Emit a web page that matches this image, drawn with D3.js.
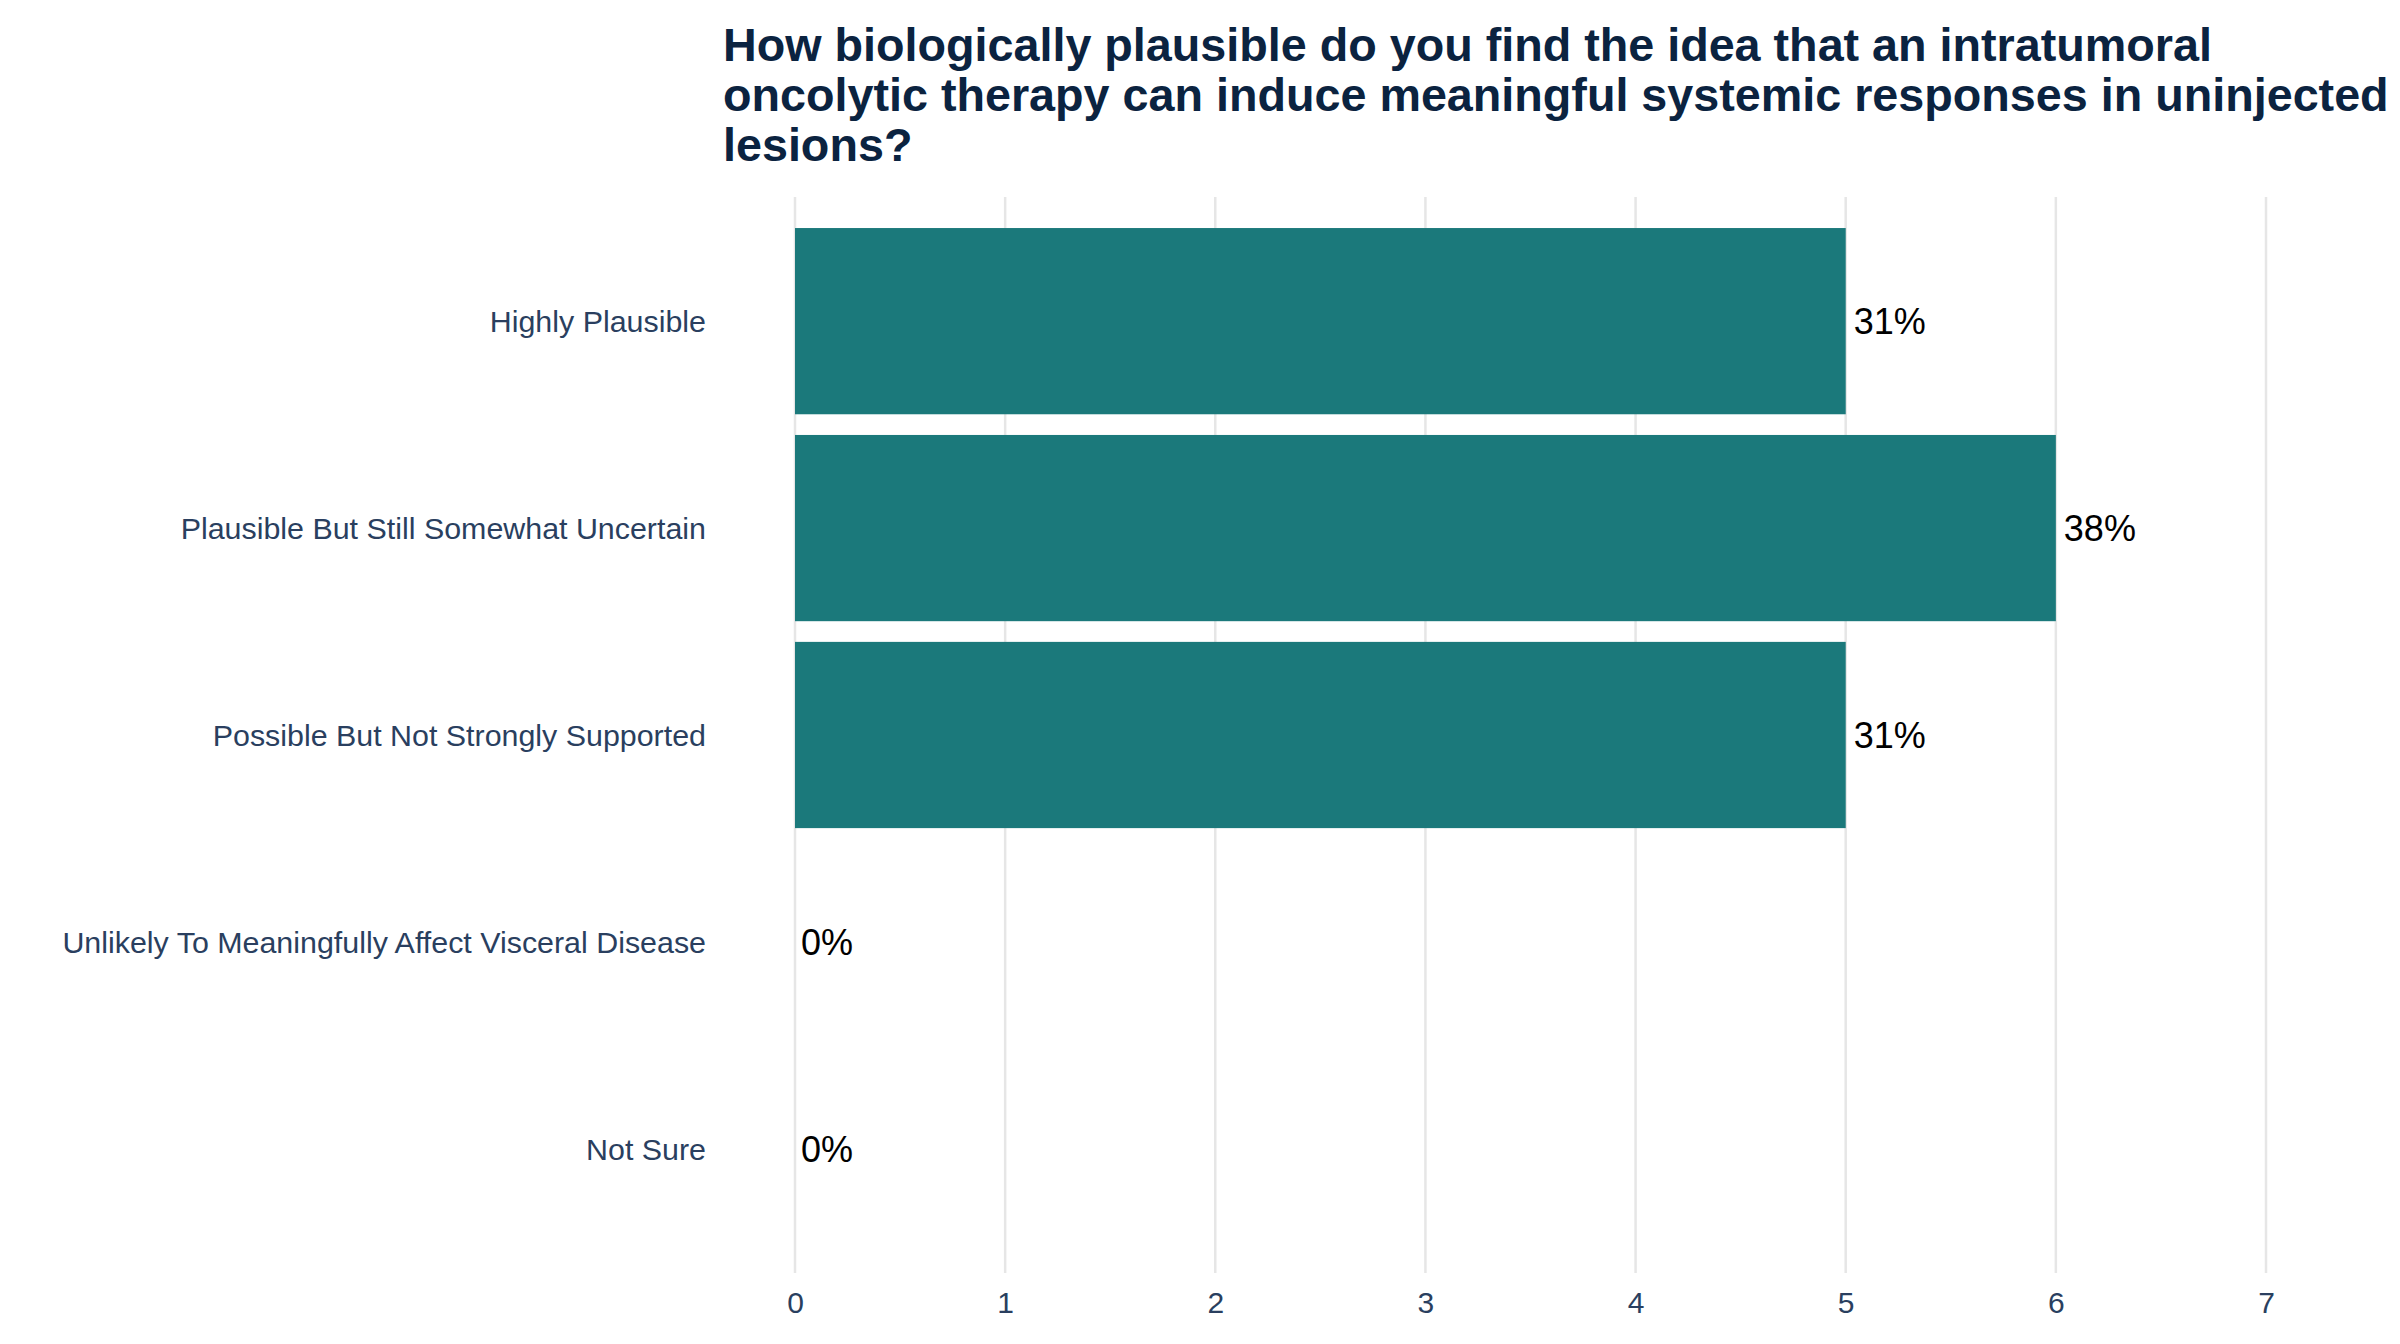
<!DOCTYPE html>
<html>
<head>
<meta charset="utf-8">
<script src="https://cdn.jsdelivr.net/npm/d3@7"></script>
<style>
    body { margin: 0; background: #fff; }
    #chart { width: 2400px; height: 1344px; }
    text { font-family: "Liberation Sans", Arial, sans-serif; }
</style>
</head>
<body>
<div id="chart"></div>
<script>
// data
const categories = [
    "Highly Plausible",
    "Plausible But Still Somewhat Uncertain",
    "Possible But Not Strongly Supported",
    "Unlikely To Meaningfully Affect Visceral Disease",
    "Not Sure"
];
const counts = [5, 6, 5, 0, 0];
const percentLabels = ["31%", "38%", "31%", "0%", "0%"];
const xTicks = [0, 1, 2, 3, 4, 5, 6, 7];
const titleLines = [
    "How biologically plausible do you find the idea that an intratumoral",
    "oncolytic therapy can induce meaningful systemic responses in uninjected",
    "lesions?"
];

const W = 2400, H = 1344;
const plot = { left: 795, right: 2266, top: 197, bottom: 1273 };

const svg = d3.select("#chart").append("svg")
    .attr("width", W)
    .attr("height", H);

// scales
let x = d3.scaleLinear()
    .domain([0, 7])
    .range([plot.left, plot.right]);

let y = d3.scaleBand()
    .domain(categories)
    .range([plot.top, plot.bottom])
    .paddingInner(0.1)
    .paddingOuter(0.15);

// vertical grid lines
svg.append("g")
    .attr("class", "grid")
    .selectAll("line")
    .data(xTicks)
    .enter()
    .append("line")
    .attr("x1", d => x(d))
    .attr("x2", d => x(d))
    .attr("y1", plot.top)
    .attr("y2", plot.bottom)
    .attr("stroke", "#e6e6e6")
    .attr("stroke-width", 2.5);

// bars
let rows = categories.map((c, i) => ({ cat: c, value: counts[i], label: percentLabels[i] }));

svg.append("g")
    .selectAll("rect")
    .data(rows)
    .enter()
    .append("rect")
    .attr("x", x(0))
    .attr("y", d => y(d.cat))
    .attr("width", d => x(d.value) - x(0))
    .attr("height", y.bandwidth())
    .attr("fill", "#1b797b");

// value labels
svg.append("g")
    .selectAll("text")
    .data(rows)
    .enter()
    .append("text")
    .attr("x", d => x(d.value) + (d.value > 0 ? 8 : 6))
    .attr("y", d => y(d.cat) + y.bandwidth() / 2)
    .attr("dy", "0.36em")
    .attr("font-size", 36)
    .attr("fill", "#000")
    .text(d => d.label);

// x axis (no domain line, no ticks)
let xAxis = d3.axisBottom(x)
    .tickValues(xTicks)
    .tickSize(0)
    .tickPadding(0)
    .tickFormat(d3.format("d"));

let gx = svg.append("g")
    .attr("transform", "translate(0," + plot.bottom + ")")
    .call(xAxis);
gx.select(".domain").remove();
gx.selectAll("text")
    .attr("y", 29)
    .attr("dy", "0.36em")
    .attr("font-size", 30)
    .attr("fill", "#2a3f5f");

// y axis labels
let yAxis = d3.axisLeft(y)
    .tickSize(0)
    .tickPadding(0);

let gy = svg.append("g")
    .attr("transform", "translate(706,0)")
    .call(yAxis);
gy.select(".domain").remove();
gy.selectAll("text")
    .attr("dy", "0.36em")
    .attr("font-size", 30.4)
    .attr("fill", "#2a3f5f");

// title
svg.append("text")
    .attr("x", 723)
    .attr("y", 61)
    .attr("font-size", 46.7)
    .attr("font-weight", "bold")
    .attr("fill", "#0b2340")
    .selectAll("tspan")
    .data(titleLines)
    .enter()
    .append("tspan")
    .attr("x", 723)
    .attr("y", (d, i) => 61 + i * 50)
    .text(d => d);
</script>
</body>
</html>
